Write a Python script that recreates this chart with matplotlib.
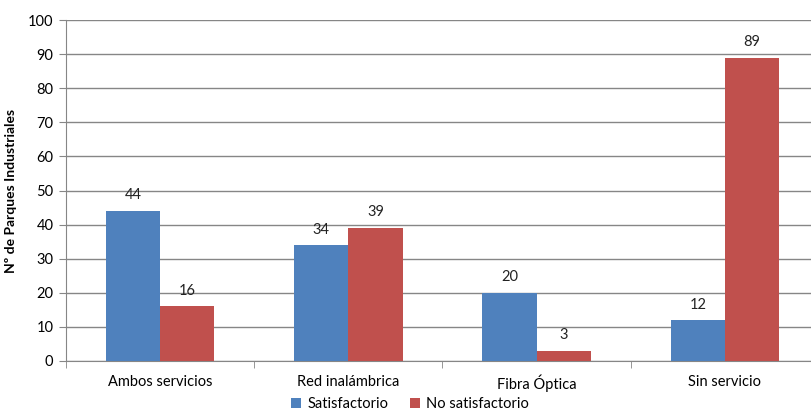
import numpy as np
from matplotlib import pyplot as plt

# Datos del gráfico
categorias = ['Ambos servicios', 'Red inalámbrica', 'Fibra Óptica', 'Sin servicio']
satisfactorio = [44, 34, 20, 12]
no_satisfactorio = [16, 39, 3, 89]

azul = '#4F81BD'
rojo = '#C0504D'
gris = '#868686'

plt.rcParams['font.family'] = ['Lato', 'DejaVu Sans']

fig = plt.figure(figsize=(8.12, 4.12), dpi=100)
ax = fig.add_axes([66 / 812, 51 / 412, 753 / 812, 341 / 412])

x = np.arange(len(categorias))
w = 0.288
b1 = ax.bar(x - w / 2, satisfactorio, w, color=azul, label='Satisfactorio', zorder=3)
b2 = ax.bar(x + w / 2, no_satisfactorio, w, color=rojo, label='No satisfactorio', zorder=3)

for barras in (b1, b2):
    for r in barras:
        ax.text(r.get_x() + r.get_width() / 2, r.get_height() + 2.5, str(int(r.get_height())),
                ha='center', va='bottom', fontsize=10.5, color='#222222')

ax.set_xlim(-0.5, len(categorias) - 0.5)
ax.set_ylim(0, 100)
ax.set_yticks(range(0, 101, 10))
ax.yaxis.grid(True, color=gris, linewidth=1, zorder=0)
ax.set_axisbelow(True)

ax.set_xticks(x)
ax.set_xticklabels(categorias, fontsize=10.5)
ax.set_xticks(np.arange(-0.5, len(categorias), 1), minor=True)
ax.tick_params(axis='x', which='major', length=0, pad=10)
ax.tick_params(axis='x', which='minor', length=5, color=gris, direction='out')
ax.tick_params(axis='y', length=5, color=gris, labelsize=10.5, pad=4)

for s in ('top', 'right'):
    ax.spines[s].set_visible(False)
ax.spines['left'].set_color(gris)
ax.spines['bottom'].set_color(gris)

ax.set_ylabel('Nº de Parques Industriales', fontsize=10, fontweight='bold', labelpad=8)

fig.legend(loc='lower center', bbox_to_anchor=(410 / 812, -0.03), ncol=2, frameon=False,
           fontsize=10.5, handlelength=0.7, handleheight=0.7, handletextpad=0.4, columnspacing=1.5)

fig.savefig('out.png', dpi=100)
